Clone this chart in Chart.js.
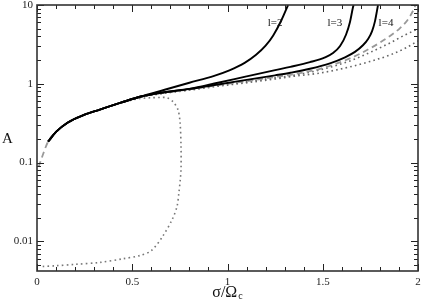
<!DOCTYPE html>
<html>
<head>
<meta charset="utf-8">
<script src="https://cdn.jsdelivr.net/npm/chart.js@4.4.0/dist/chart.umd.min.js"></script>
<style>
  html, body { margin: 0; padding: 0; background: #fff; }
  #wrap { width: 422px; height: 300px; }
</style>
</head>
<body>
<div id="wrap"><canvas id="resonanceChart" width="422" height="300"></canvas></div>
<script>
// values: sigma / Omega_c on x, A on a log axis
var l2Sigma = [0.058, 0.10, 0.16, 0.25, 0.33, 0.44, 0.54, 0.67, 0.80, 0.93, 1.01, 1.09, 1.15, 1.20, 1.24, 1.283, 1.318];
var l2A     = [0.184, 0.245, 0.32, 0.405, 0.47, 0.575, 0.684, 0.84, 1.03, 1.26, 1.48, 1.84, 2.33, 3.04, 4.11, 6.41, 10];

var l3Sigma = [0.058, 0.10, 0.16, 0.25, 0.33, 0.44, 0.54, 0.65, 0.80, 0.95, 1.10, 1.25, 1.33, 1.433, 1.512, 1.554, 1.591, 1.622, 1.643, 1.659, 1.662];
var l3A     = [0.184, 0.245, 0.32, 0.405, 0.47, 0.575, 0.684, 0.77, 0.86, 1.03, 1.24, 1.49, 1.64, 1.88, 2.16, 2.45, 3.01, 4.19, 6.09, 9.43, 10];

var l4Sigma = [0.058, 0.10, 0.16, 0.25, 0.33, 0.44, 0.54, 0.65, 0.80, 0.95, 1.10, 1.25, 1.33, 1.433, 1.538, 1.617, 1.669, 1.711, 1.738, 1.759, 1.774, 1.785, 1.790];
var l4A     = [0.184, 0.245, 0.32, 0.405, 0.47, 0.575, 0.684, 0.77, 0.86, 0.98, 1.12, 1.28, 1.38, 1.55, 1.82, 2.17, 2.54, 3.08, 3.70, 4.67, 6.20, 8.55, 10];

var dashSigma = [0.008, 0.02, 0.058, 0.10, 0.16, 0.25, 0.33, 0.44, 0.54, 0.65, 0.80, 0.95, 1.10, 1.25, 1.33, 1.486, 1.643, 1.748, 1.853, 1.906, 1.948, 1.974, 1.987];
var dashA     = [0.088, 0.106, 0.184, 0.245, 0.32, 0.405, 0.47, 0.575, 0.68, 0.76, 0.85, 0.96, 1.08, 1.22, 1.30, 1.55, 2.10, 2.81, 4.04, 5.10, 6.59, 8.45, 10];

var dotHiSigma = [0.45, 0.54, 0.65, 0.80, 0.95, 1.10, 1.25, 1.33, 1.486, 1.643, 1.748, 1.853, 1.932, 2.0];
var dotHiA     = [0.59, 0.68, 0.75, 0.84, 0.95, 1.06, 1.19, 1.26, 1.50, 1.95, 2.50, 3.30, 4.17, 4.97];

var dotLoSigma = [0.45, 0.54, 0.65, 0.80, 0.95, 1.10, 1.25, 1.33, 1.486, 1.643, 1.748, 1.853, 1.932, 2.0];
var dotLoA     = [0.59, 0.68, 0.75, 0.83, 0.93, 1.03, 1.15, 1.23, 1.37, 1.64, 1.92, 2.32, 2.82, 3.50];

var loopSigma = [0.03, 0.1, 0.2, 0.33, 0.45, 0.54, 0.60, 0.66, 0.71, 0.735, 0.745, 0.752, 0.756, 0.756, 0.751, 0.74, 0.714, 0.682, 0.646, 0.60, 0.54, 0.47];
var loopA     = [0.0048, 0.0049, 0.0051, 0.0054, 0.006, 0.0066, 0.0076, 0.0116, 0.019, 0.0277, 0.0417, 0.06, 0.0815, 0.159, 0.321, 0.469, 0.592, 0.665, 0.67, 0.665, 0.65, 0.60];

var xTicks = [0, 0.5, 1, 1.5, 2];
var yTicks = [0.01, 0.1, 1, 10];
var curveLabels = ['l=2', 'l=3', 'l=4'];
var labelSigma = [1.25, 1.564, 1.832];
var labelA = [5.9, 5.9, 5.9];

function pts(xs, ys) {
  return xs.map(function (x, i) { return { x: x, y: ys[i] }; });
}

var SERIF = '"Liberation Serif", "DejaVu Serif", serif';

function noOverflow(s) {
  s.paddingTop = 0; s.paddingBottom = 0; s.paddingLeft = 0; s.paddingRight = 0;
}

// inward ticks on four sides, the frame, curve labels and axis titles
var decorations = {
  id: 'decorations',
  afterDatasetsDraw: function (chart) {
    var ctx = chart.ctx, a = chart.chartArea;
    var xs = chart.scales.x, ys = chart.scales.y;
    ctx.save();
    ctx.strokeStyle = '#222';
    ctx.lineWidth = 1;
    ctx.beginPath();
    for (var i = 0; i <= 20; i++) {
      var px = Math.round(xs.getPixelForValue(i / 10)) + 0.5;
      var len = i % 5 === 0 ? 7 : 4;
      ctx.moveTo(px, a.bottom); ctx.lineTo(px, a.bottom - len);
      ctx.moveTo(px, a.top); ctx.lineTo(px, a.top + len);
    }
    for (var e = -3; e <= 1; e++) {
      for (var k = 1; k <= 9; k++) {
        var v = k * Math.pow(10, e);
        if (v < ys.min || v > ys.max) continue;
        var py = Math.round(ys.getPixelForValue(v)) + 0.5;
        var l = k === 1 ? 7 : 4;
        ctx.moveTo(a.left, py); ctx.lineTo(a.left + l, py);
        ctx.moveTo(a.right, py); ctx.lineTo(a.right - l, py);
      }
    }
    ctx.stroke();

    ctx.lineWidth = 1.6;
    ctx.strokeStyle = '#333';
    ctx.strokeRect(a.left, a.top, a.right - a.left, a.bottom - a.top);

    ctx.fillStyle = '#111';
    ctx.font = '11px ' + SERIF;
    ctx.textAlign = 'center';
    ctx.textBaseline = 'middle';
    curveLabels.forEach(function (t, j) {
      ctx.fillText(t, xs.getPixelForValue(labelSigma[j]), ys.getPixelForValue(labelA[j]));
    });

    ctx.textBaseline = 'alphabetic';
    ctx.textAlign = 'left';
    ctx.font = '15px ' + SERIF;
    ctx.fillText('A', 2, 143);

    ctx.font = '16px ' + SERIF;
    var main = 'σ/Ω';
    var w = ctx.measureText(main).width;
    ctx.font = '10px ' + SERIF;
    var ws = ctx.measureText('c').width;
    var x0 = (a.left + a.right) / 2 - (w + ws + 1) / 2;
    ctx.font = '16px ' + SERIF;
    ctx.fillText(main, x0, 297);
    ctx.font = '10px ' + SERIF;
    ctx.fillText('c', x0 + w + 1, 299);
    ctx.restore();
  }
};

var ctx = document.getElementById('resonanceChart').getContext('2d');
var solid = { borderColor: '#000', borderWidth: 1.9, pointRadius: 0, showLine: true, cubicInterpolationMode: 'monotone' };
var dotted = { borderWidth: 1.6, borderDash: [1.6, 3.2], pointRadius: 0, showLine: true, order: 6 };

var myChart = new Chart(ctx, {
  type: 'scatter',
  data: {
    datasets: [
      Object.assign({ label: 'l=2', data: pts(l2Sigma, l2A) }, solid),
      Object.assign({ label: 'l=3', data: pts(l3Sigma, l3A) }, solid),
      Object.assign({ label: 'l=4', data: pts(l4Sigma, l4A) }, solid),
      { label: 'dashed', data: pts(dashSigma, dashA), borderColor: '#999', borderWidth: 1.8, borderDash: [6, 4],
        pointRadius: 0, showLine: true, cubicInterpolationMode: 'monotone', order: 5 },
      Object.assign({ label: 'dotted 1', data: pts(dotHiSigma, dotHiA), borderColor: '#666', cubicInterpolationMode: 'monotone' }, dotted),
      Object.assign({ label: 'dotted 2', data: pts(dotLoSigma, dotLoA), borderColor: '#666', cubicInterpolationMode: 'monotone' }, dotted),
      Object.assign({ label: 'dotted loop', data: pts(loopSigma, loopA), borderColor: '#777', tension: 0.3 }, dotted)
    ]
  },
  options: {
    responsive: false,
    animation: false,
    layout: { padding: { top: 5, right: 4, left: 0, bottom: 0 } },
    plugins: { legend: { display: false }, tooltip: { enabled: false } },
    scales: {
      x: {
        type: 'linear', min: 0, max: 2,
        grid: { display: false, drawTicks: false },
        border: { display: false },
        afterBuildTicks: function (s) { s.ticks = xTicks.map(function (v) { return { value: v }; }); },
        afterFit: function (s) { s.height = 29; noOverflow(s); },
        ticks: {
          autoSkip: false, maxRotation: 0, padding: 5, color: '#222',
          font: { family: SERIF, size: 11 },
          callback: function (v) { return String(v); }
        }
      },
      y: {
        type: 'logarithmic', min: 0.0042, max: 10,
        grid: { display: false, drawTicks: false },
        border: { display: false },
        afterBuildTicks: function (s) { s.ticks = yTicks.map(function (v) { return { value: v }; }); },
        afterFit: function (s) { s.width = 37; noOverflow(s); },
        ticks: {
          autoSkip: false, padding: 4, color: '#222',
          font: { family: SERIF, size: 11 },
          callback: function (v) { return String(v); }
        }
      }
    }
  },
  plugins: [decorations]
});
</script>
</body>
</html>
